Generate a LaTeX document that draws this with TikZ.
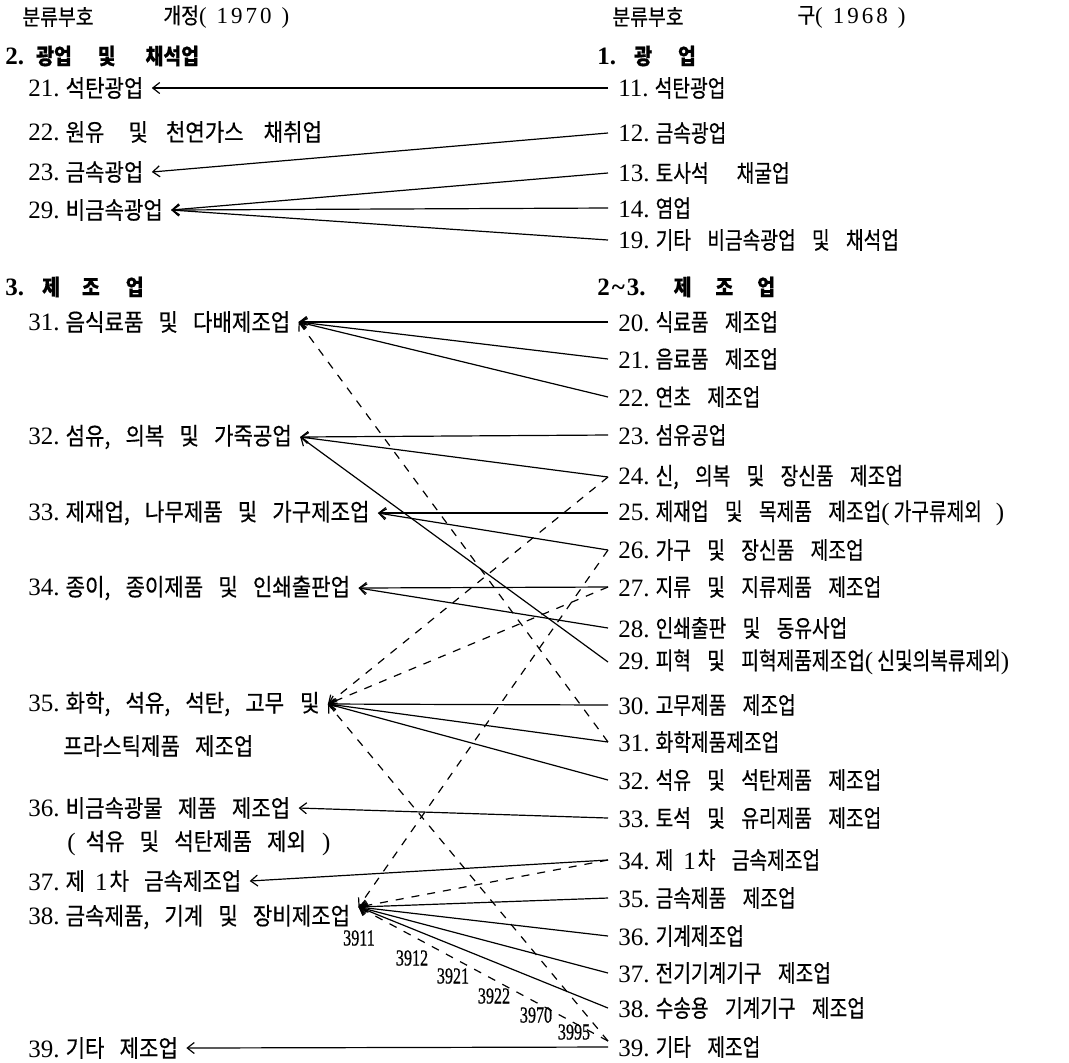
\documentclass[tikz,border=0pt]{standalone}
\usepackage{fontspec}
\setmainfont{Liberation Serif}
\newfontfamily\kr[FakeStretch=0.88,WordSpace=3.2,FakeBold=0.5]{Noto Sans CJK KR}
\newfontfamily\krd[FakeStretch=0.8,WordSpace=3.8,FakeBold=0.5]{Noto Sans CJK KR}
\newfontfamily\codefont[FakeStretch=0.7,FakeBold=0.6]{Liberation Serif}
\usetikzlibrary{arrows.meta}
\newcommand{\cn}[1]{{\rmfamily\fontsize{12.5}{14}\selectfont #1}}
\newcommand{\nb}[1]{\cn{#1}\hspace{3pt}}
\newcommand{\an}[1]{{\rmfamily\fontsize{11.5}{13}\selectfont #1}}
\tikzset{
  entete/.style={anchor=west, inner sep=0pt, font=\kr\fontsize{11}{13}\selectfont},
  rubrique/.style={anchor=west, inner sep=0pt, font=\kr\bfseries\fontsize{11}{13}\selectfont},
  gauche/.style={anchor=west, inner xsep=4pt, inner ysep=0pt, font=\kr\fontsize{12}{14}\selectfont},
  droite/.style={anchor=west, inner xsep=5pt, inner ysep=0pt, font=\krd\fontsize{12}{14}\selectfont},
  lien/.style={-{Straight Barb[length=3.5pt,width=5.5pt]}, line width=0.6pt},
  lienp/.style={lien, dash pattern=on 4pt off 4pt},
  codeno/.style={inner sep=0pt, font=\codefont\fontsize{11.5}{12}\selectfont}
}
\begin{document}
\begin{tikzpicture}[x=0.5pt,y=-0.5pt]
    \useasboundingbox (0,0) rectangle (1069,1062);
    % en-tetes
    \node[entete] (hg1) at (22,17) {분류부호};
    \node[entete] (hg2) at (163,17) {개정\an{(\hspace{5pt}1\hspace{1.5pt}9\hspace{1.5pt}7\hspace{1.5pt}0\hspace{5pt})}};
    \node[entete] (hd1) at (612,17) {분류부호};
    \node[entete] (hd2) at (797,17) {구\an{(\hspace{5pt}1\hspace{1.5pt}9\hspace{1.5pt}6\hspace{1.5pt}8\hspace{5pt})}};
    % colonne gauche : revision 1970
    \node[rubrique] (g2) at (5,56) {\cn{2.}\hspace{6pt}광업\hspace{13pt}및\hspace{15pt}채석업};
    \node[gauche] (g21) at (20,88) {\nb{21.}석탄광업};
    \node[gauche] (g22) at (20,132) {\nb{22.}원유\hspace{12pt}및\hspace{9pt}천연가스\hspace{10pt}채취업};
    \node[gauche] (g23) at (20,172) {\nb{23.}금속광업};
    \node[gauche] (g29) at (20,210) {\nb{29.}비금속광업};
    \node[rubrique] (g3) at (5,287) {\cn{3.}\hspace{9pt}제\hspace{11pt}조\hspace{13pt}업};
    \node[gauche] (g31) at (20,322) {\nb{31.}음식료품 및 다배제조업};
    \node[gauche] (g32) at (20,437) {\nb{32.}섬유, 의복 및 가죽공업};
    \node[gauche] (g33) at (20,513) {\nb{33.}제재업, 나무제품 및 가구제조업};
    \node[gauche] (g34) at (20,588) {\nb{34.}종이, 종이제품 및 인쇄출판업};
    \node[gauche] (g35) at (20,704) {\nb{35.}화학, 석유, 석탄, 고무\hspace{8pt}및};
    \node[gauche] (g35b) at (55,746) {프라스틱제품 제조업};
    \node[gauche] (g36) at (20,808) {\nb{36.}비금속광물 제품 제조업};
    \node[gauche] (g36b) at (59,843) {\cn{(}\hspace{5pt}석유 및 석탄제품 제외\hspace{8pt}\cn{)}};
    \node[gauche] (g37) at (20,881) {\nb{37.}제\hspace{5pt}\cn{1}\hspace{1pt}차 금속제조업};
    \node[gauche] (g38) at (20,917) {\nb{38.}금속제품, 기계 및 장비제조업};
    \coordinate (p38) at ([yshift=5pt]g38.east);
    \node[gauche] (g39) at (20,1048) {\nb{39.}기타 제조업};
    % colonne droite : ancienne (1968)
    \node[rubrique] (d1) at (597,56) {\cn{1.}\hspace{9pt}광\hspace{13pt}업};
    \node[droite] (d11) at (608,88) {\nb{11.}석탄광업};
    \node[droite] (d12) at (608,133) {\nb{12.}금속광업};
    \node[droite] (d13) at (608,173) {\nb{13.}토사석\hspace{14pt}채굴업};
    \node[droite] (d14) at (608,208) {\nb{14.}염업};
    \node[droite] (d19) at (608,240) {\nb{19.}기타 비금속광업 및 채석업};
    \node[rubrique] (d23s) at (597,287) {\cn{2\hspace{1pt}\textasciitilde\hspace{1pt}3.}\hspace{14pt}제\hspace{12pt}조\hspace{12pt}업};
    \node[droite] (d20) at (608,322) {\nb{20.}식료품 제조업};
    \node[droite] (d21) at (608,359) {\nb{21.}음료품 제조업};
    \node[droite] (d22) at (608,397) {\nb{22.}연초 제조업};
    \node[droite] (d23) at (608,435) {\nb{23.}섬유공업};
    \node[droite] (d24) at (608,477) {\nb{24.}신, 의복 및 장신품 제조업};
    \node[droite] (d25) at (608,513) {\nb{25.}제재업 및 목제품 제조업\cn{(}\hspace{2pt}가구류제외\hspace{7pt}\cn{)}};
    \node[droite] (d26) at (608,550) {\nb{26.}가구 및 장신품 제조업};
    \node[droite] (d27) at (608,587) {\nb{27.}지류 및 지류제품 제조업};
    \node[droite] (d28) at (608,628) {\nb{28.}인쇄출판 및 동유사업};
    \node[droite] (d29) at (608,662) {\nb{29.}피혁 및 피혁제품제조업\cn{(}\hspace{2pt}신및의복류제외\cn{)}};
    \node[droite] (d30) at (608,705) {\nb{30.}고무제품 제조업};
    \node[droite] (d31) at (608,742) {\nb{31.}화학제품제조업};
    \node[droite] (d32) at (608,780) {\nb{32.}석유 및 석탄제품 제조업};
    \node[droite] (d33) at (608,818) {\nb{33.}토석 및 유리제품 제조업};
    \node[droite] (d34) at (608,860) {\nb{34.}제\hspace{5pt}\cn{1}\hspace{1pt}차 금속제조업};
    \node[droite] (d35) at (608,898) {\nb{35.}금속제품 제조업};
    \node[droite] (d36) at (608,936) {\nb{36.}기계제조업};
    \node[droite] (d37) at (608,973) {\nb{37.}전기기계기구 제조업};
    \node[droite] (d38) at (608,1008) {\nb{38.}수송용 기계기구 제조업};
    \node[droite] (d39) at (608,1047) {\nb{39.}기타 제조업};
    \coordinate (q39) at ([yshift=3pt]d39.west);
    % liens : correspondance complete
    \draw[lien] (d11.west) -- (g21.east);
    \draw[lien] (d12.west) -- (g23.east);
    \draw[lien] (d13.west) -- (g29.east);
    \draw[lien] (d14.west) -- (g29.east);
    \draw[lien] (d19.west) -- (g29.east);
    \draw[lien] (d20.west) -- (g31.east);
    \draw[lien] (d21.west) -- (g31.east);
    \draw[lien] (d22.west) -- (g31.east);
    \draw[lien] (d23.west) -- (g32.east);
    \draw[lien] (d24.west) -- (g32.east);
    \draw[lien] (d29.west) -- (g32.east);
    \draw[lien] (d25.west) -- (g33.east);
    \draw[lien] (d26.west) -- (g33.east);
    \draw[lien] (d27.west) -- (g34.east);
    \draw[lien] (d28.west) -- (g34.east);
    \draw[lien] (d30.west) -- (g35.east);
    \draw[lien] (d31.west) -- (g35.east);
    \draw[lien] (d32.west) -- (g35.east);
    \draw[lien] (d33.west) -- (g36.east);
    \draw[lien] (d34.west) -- (g37.east);
    \draw[lien] (d35.west) -- (p38);
    \draw[lien] (d36.west) -- (p38);
    \draw[lien] (d37.west) -- (p38);
    \draw[lien] (d38.west) -- (p38);
    \draw[lien] (d39.west) -- (g39.east);
    % liens partiels (pointilles)
    \draw[lienp] (d31.west) -- (g31.east);
    \draw[lienp] (d24.west) -- (g35.east);
    \draw[lienp] (d27.west) -- (g35.east);
    \draw[lienp] (q39) -- (g35.east);
    \draw[lienp] (d26.west) -- (p38);
    \draw[lienp] (d34.west) -- (p38);
    \draw[lienp] (q39) -- (p38);
    % codes detailles
    \node[codeno] (c3911) at (359,938) {3911};
    \node[codeno] (c3912) at (412,958) {3912};
    \node[codeno] (c3921) at (453,976) {3921};
    \node[codeno] (c3922) at (494,996) {3922};
    \node[codeno] (c3970) at (536,1015) {3970};
    \node[codeno] (c3995) at (574,1032) {3995};
\end{tikzpicture}
\end{document}
